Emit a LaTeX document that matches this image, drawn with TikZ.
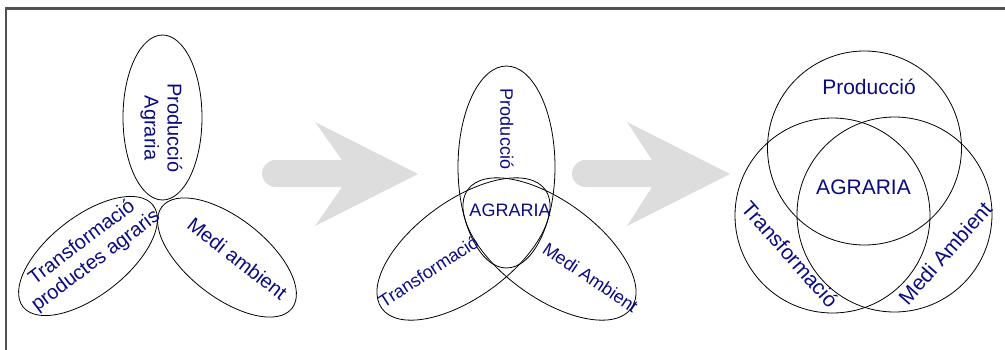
\documentclass[tikz,border=0pt]{standalone}
\usepackage{fontspec}
\setmainfont{Liberation Sans}
\definecolor{txtblue}{RGB}{10,10,130}
\definecolor{arrgray}{RGB}{221,221,221}
\definecolor{framegray}{RGB}{80,80,80}
\tikzset{
  ell/.style={draw=black, line width=0.8pt},
  lbl/.style={text=txtblue, inner sep=0pt, align=center},
  fa/.style={font=\fontsize{20}{23}\selectfont},
  fb/.style={font=\fontsize{18}{21}\selectfont},
  fc/.style={font=\fontsize{21}{24}\selectfont},
  bigarrow/.style={fill=arrgray, draw=none}
}
\begin{document}
\begin{tikzpicture}[x=1pt,y=1pt]
\useasboundingbox (0,0) rectangle (1005,-349);
\clip (0,0) rectangle (1005,-349);
% frame
\draw[framegray, line width=2.3pt] (6.2,-360) -- (6.2,-8.5) -- (1015,-8.5);

% arrows
\fill[bigarrow] (275.5,-160) -- (342,-160) -- (315,-122) -- (418,-174) -- (315,-226) -- (342,-187) -- (275.5,-187) arc (270:90:13.5) -- cycle;
\fill[bigarrow] (585.5,-160) -- (652,-160) -- (627,-122) -- (730,-174) -- (627,-226) -- (652,-187) -- (585.5,-187) arc (270:90:13.5) -- cycle;

% panel 1
\draw[ell] (162.5,-117.5) ellipse [x radius=39.5, y radius=82.5];
\draw[ell, rotate around={38:(88,-256)}] (88,-256) ellipse [x radius=82.5, y radius=39.5];
\draw[ell, rotate around={-38:(227,-257.5)}] (227,-257.5) ellipse [x radius=82.5, y radius=39.5];
\node[lbl, fa, rotate=-90] (p1a) at (161.5,-128) {Producció\\Agraria};
\node[lbl, fa, rotate=37] (p1b) at (89,-252) {Transformació\\productes agraris};
\node[lbl, fa, rotate=-38] (p1c) at (237.5,-258.5) {Medi ambient};

% panel 2
\draw[ell] (506.5,-167) ellipse [x radius=48.5, y radius=101];
\draw[ell, rotate around={36:(463.5,-249)}] (463.5,-249) ellipse [x radius=101, y radius=48.5];
\draw[ell, rotate around={-36:(549.5,-249)}] (549.5,-249) ellipse [x radius=101, y radius=48.5];
\node[lbl, fb, rotate=-90] (p2a) at (507,-129) {Producció};
\node[lbl, fb, text height=0.716em, text depth=0pt] (p2d) at (510,-212.5) {AGRARIA};
\node[lbl, fb, rotate=33] (p2b) at (428.5,-271.5) {Transformació};
\node[lbl, fb, rotate=-34] (p2c) at (590.5,-277.5) {Medi Ambient};

% panel 3
\draw[ell] (864.5,-148) circle [radius=97];
\draw[ell] (832.5,-215.5) circle [radius=97.5];
\draw[ell] (894.5,-214.5) circle [radius=97.5];
\node[lbl, fc, text height=0.716em, text depth=0pt] (p3a) at (869,-90.5) {Producció};
\node[lbl, fc, text height=0.716em, text depth=0pt] (p3d) at (863.5,-190.5) {AGRARIA};
\node[lbl, fc, rotate=-48.5] (p3b) at (790,-254) {Transformació};
\node[lbl, fc, rotate=48.5] (p3c) at (945,-253) {Medi Ambient};
\end{tikzpicture}
\end{document}
